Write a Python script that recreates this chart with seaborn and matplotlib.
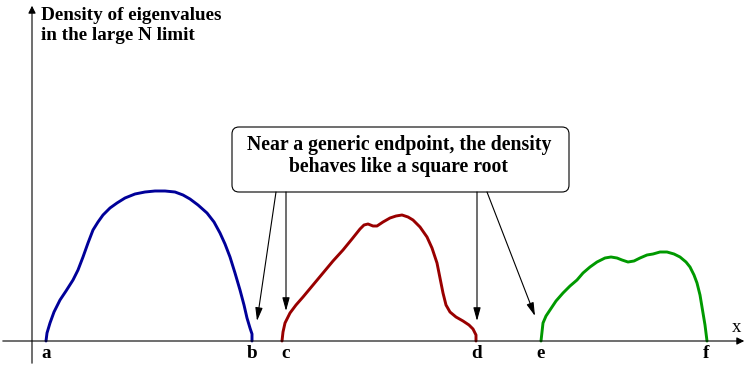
import matplotlib
matplotlib.use("Agg")
import matplotlib.pyplot as plt
import seaborn as sns
import pandas as pd
from matplotlib.patches import FancyBboxPatch

# curves (x in px, height above the x axis in px)
blue_x = [46, 47, 50, 54, 60, 66, 73, 78, 83, 88, 93, 98, 103, 110, 117, 125, 135, 145, 155,
          165, 175, 183, 190, 198, 207, 214, 220, 225, 230, 235, 240, 244, 247, 250, 252, 252]
blue_y = [0, 8, 18, 29, 41, 50, 61, 71, 84, 98, 111, 119, 126, 133, 138, 143, 147, 149, 150,
          150, 149, 146, 142, 136, 128, 119, 108, 97, 84, 68, 51, 36, 23, 13, 7, 0]

red_x = [282, 283, 285, 290, 296, 303, 313, 323, 333, 343, 352, 360, 364, 368, 373, 377, 383,
         390, 396, 402, 408, 413, 420, 427, 432, 437, 440, 443, 446, 450, 456, 463, 469, 473, 476, 476]
red_y = [0, 9, 18, 28, 36, 44, 56, 68, 80, 91, 102, 112, 116, 117, 115, 115, 119,
         123, 125, 126, 124, 121, 114, 104, 93, 78, 63, 48, 36, 29, 24, 20, 16, 12, 6, 0]

green_x = [541, 542, 543, 546, 550, 556, 563, 570, 577, 583, 590, 597, 605, 611, 617, 622, 628,
           634, 640, 647, 653, 660, 667, 674, 680, 686, 690, 694, 697, 700, 702, 705, 707]
green_y = [0, 9, 18, 25, 31, 40, 48, 55, 61, 68, 74, 79, 83, 84, 83, 81, 79,
           80, 83, 86, 87, 89, 89, 87, 84, 79, 74, 66, 58, 46, 34, 16, 0]

endpoint_labels = ["a", "b", "c", "d", "e", "f"]
endpoint_x = [46, 252, 286, 477, 541, 706]

BASE = 341  # pixel row of the x axis
W, H = 748, 368

sns.set_style("white")
plt.rcParams['font.family'] = ['Liberation Serif', 'DejaVu Serif']
plt.rcParams['text.color'] = 'black'

fig = plt.figure(figsize=(W / 100, H / 100), dpi=100)
ax = fig.add_axes([0, 0, 1, 1])

df = pd.concat([
    pd.DataFrame({"x": blue_x, "y": blue_y, "band": "ab"}),
    pd.DataFrame({"x": red_x, "y": red_y, "band": "cd"}),
    pd.DataFrame({"x": green_x, "y": green_y, "band": "ef"}),
])
sns.lineplot(data=df, x="x", y="y", hue="band", sort=False, estimator=None,
             palette=["#000099", "#990000", "#009900"], linewidth=2.1, legend=False, ax=ax)

ax.set_xlim(0, W)
ax.set_ylim(BASE - H, BASE)
ax.axis("off")

# axes with arrows
ax.annotate("", xy=(W - 1, 0), xytext=(0, 0),
            arrowprops=dict(arrowstyle="-|>", color="black", lw=0.8, mutation_scale=11))
ax.annotate("", xy=(32, BASE - 3), xytext=(32, BASE - 366),
            arrowprops=dict(arrowstyle="-|>", color="black", lw=0.8, mutation_scale=11))

font = dict(family=['Liberation Serif', 'DejaVu Serif'], fontweight="bold",
            fontsize=13.8, color="black")
ax.text(41, BASE - 15, "Density of eigenvalues", ha="left", va="center", **font)
ax.text(41, BASE - 35, "in the large N limit", ha="left", va="center", **font)
ax.text(737, BASE - 328, "x", ha="center", va="center", color="black",
        family=['Liberation Serif', 'DejaVu Serif'], fontsize=13.5)

for lab, xv in zip(endpoint_labels, endpoint_x):
    ax.text(xv, -12, lab, ha="center", va="center", **font)

# callout box
box = FancyBboxPatch((238, BASE - 186), 325, 53, boxstyle="round,pad=6,rounding_size=7",
                     fc="white", ec="black", lw=0.8)
ax.add_patch(box)
box_font = dict(font, fontsize=14.2)
ax.text(399, BASE - 145, "Near a generic endpoint, the density", ha="center", va="center", **box_font)
ax.text(399, BASE - 167, "behaves like a square root", ha="center", va="center", **box_font)

arrows = [((276, 192), (257, 321)), ((286, 192), (286, 311)),
          ((477, 192), (477, 321)), ((487, 192), (535, 316))]
for (sx, sy), (tx, ty) in arrows:
    ax.annotate("", xy=(tx, BASE - ty), xytext=(sx, BASE - sy),
                arrowprops=dict(arrowstyle="-|>,head_length=0.8,head_width=0.22",
                                color="black", lw=0.8, mutation_scale=10,
                                shrinkA=0, shrinkB=0))

fig.savefig("out.png", dpi=100, facecolor="white")
